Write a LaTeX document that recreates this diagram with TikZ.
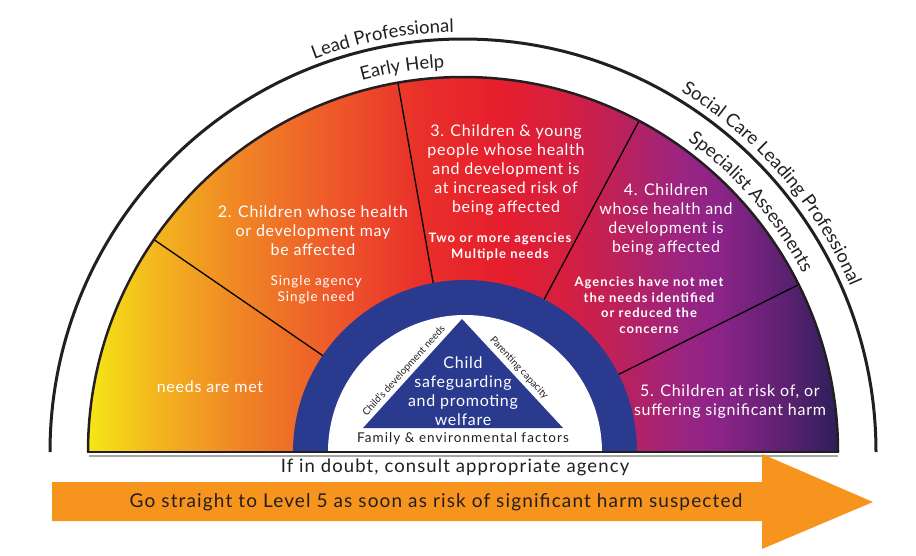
\documentclass[tikz,border=0pt]{standalone}
\usepackage{fontspec}
\setmainfont{Lato}
\newfontfamily\lsA[LetterSpace=4.5]{Lato}
\newfontfamily\lsB[LetterSpace=7]{Lato}
\newfontfamily\lsC[LetterSpace=6]{Lato}
\newfontfamily\lsD[LetterSpace=8]{Lato}
\usetikzlibrary{decorations.text}
\definecolor{g0}{HTML}{F5E616}
\definecolor{g1}{HTML}{F3BA1E}
\definecolor{g2}{HTML}{F08A24}
\definecolor{g3}{HTML}{EE5A2A}
\definecolor{g4}{HTML}{E9302A}
\definecolor{g5}{HTML}{E61E2D}
\definecolor{g6}{HTML}{D41F42}
\definecolor{g7}{HTML}{BB215C}
\definecolor{g8}{HTML}{9C2480}
\definecolor{g9}{HTML}{8B2488}
\definecolor{g10}{HTML}{58216F}
\definecolor{g11}{HTML}{2D1F5A}
\definecolor{ringblue}{HTML}{2A3A8E}
\definecolor{arroworange}{HTML}{F7941D}
\definecolor{ink}{HTML}{231F20}
\pgfdeclarehorizontalshading{heat}{100bp}{color(0bp)=(g0); color(25bp)=(g0); color(29.13bp)=(g1); color(34.47bp)=(g2); color(41.13bp)=(g3); color(47.13bp)=(g4); color(52.47bp)=(g5); color(57.13bp)=(g6); color(60.47bp)=(g7); color(64.47bp)=(g8); color(67.13bp)=(g9); color(71.8bp)=(g10); color(75bp)=(g11); color(100bp)=(g11)}
\tikzset{
  segtext/.style={text=white, align=center, inner sep=0pt, font=\lsA\fontsize{16}{19}\selectfont},
  subtext/.style={text=white, align=center, inner sep=0pt, font=\lsB\fontsize{13.5}{15.5}\selectfont},
  boldsub/.style={text=white, align=center, inner sep=0pt, font=\lsD\bfseries\fontsize{13}{15.5}\selectfont},
  inktext/.style={text=ink, align=center, inner sep=0pt},
  divider/.style={line width=1.3pt, black},
  arclabel/.style={decorate, decoration={text along path, text align=center, text={|\fontsize{18.5}{20}\selectfont\color{ink}|#1}}},
}
\begin{document}
\begin{tikzpicture}[x=1pt,y=1pt]
\useasboundingbox (0,0) rectangle (916,-555);
\coordinate (C) at (463,-452);
\coordinate (R) at (465,-452);
% outer arc
\draw[line width=3pt, ink] (C) ++(180:413) arc[start angle=180,end angle=0,radius=413];
% coloured half disc
\shade[shading=heat] (C) ++(180:375) arc[start angle=180,end angle=0,radius=375] -- cycle;
% dividers
\foreach \a in {145.5,100,62,26.5} \draw[divider] (C) ++(\a:150) -- ++(\a:225);
\draw[line width=2.5pt, ink] (C) ++(180:375) arc[start angle=180,end angle=0,radius=375];
% ring
\fill[ringblue] (R) ++(180:172) arc[start angle=180,end angle=0,radius=172] -- cycle;
\fill[white] (R) ++(180:137) arc[start angle=180,end angle=0,radius=137] -- cycle;
\fill[ringblue] (462,-319) -- (363,-428) -- (563,-428) -- cycle;
% base line
\draw[black!35, line width=2pt] (89,-455.5) -- (838,-455.5);
\draw[ink, line width=2.5pt] (87,-452) -- (839,-452);
% arc labels
\path[arclabel={Lead Professional}] (C) ++(140:420) arc[start angle=140,end angle=62,radius=420];
\path[arclabel={Early Help}] (C) ++(138:385) arc[start angle=138,end angle=60,radius=385];
\path[arclabel={Social Care Leading Professional}] (C) ++(85:421) arc[start angle=85,end angle=-3,radius=421];
\path[arclabel={Specialist Assesments}] (C) ++(80:384) arc[start angle=80,end angle=2,radius=384];
% segment texts
\node[segtext] (t1) at (210,-387) {needs are met};
\node[segtext] (t2) at (313,-231) {2. Children whose health\\or development may\\be affected};
\node[subtext] (s2) at (316,-290) {Single agency\\Single need};
\node[segtext] (t3) at (506,-170) {3. Children \& young\\people whose health\\and development is\\at increased risk of\\being affected};
\node[boldsub] (s3) at (500,-247) {Two or more agencies\\Multiple needs};
\node[segtext] (t4) at (666,-220) {4. Children\\whose health and\\development is\\being affected};
\node[boldsub] (s4) at (649,-305) {Agencies have not met\\the needs identified\\or reduced the\\concerns};
\node[segtext] (t5) at (730,-402) {5. Children at risk of, or\\suffering significant harm};
% centre
\node[segtext] (ctr) at (463,-391) {Child\\safeguarding\\and promoting\\welfare};
\node[inktext, font=\fontsize{10}{12}\selectfont, rotate=47.8] (dev) at (404,-371) {Child's development needs};
\node[inktext, font=\fontsize{10}{12}\selectfont, rotate=-47.2] (par) at (519,-368) {Parenting capacity};
\node[inktext, font=\lsD\fontsize{13.5}{15}\selectfont] (fam) at (463,-439) {Family \& environmental factors};
% arrow
\fill[arroworange] (52,-482) -- (762,-482) -- (762,-454) -- (873,-502) -- (762,-549) -- (762,-521) -- (52,-521) -- cycle;
\node[inktext, font=\lsC\fontsize{18.5}{20}\selectfont] (doubt) at (455,-467) {If in doubt, consult appropriate agency};
\node[inktext, font=\lsC\fontsize{19}{20}\selectfont] (go) at (436,-502) {Go straight to Level 5 as soon as risk of significant harm suspected};
\end{tikzpicture}
\end{document}
